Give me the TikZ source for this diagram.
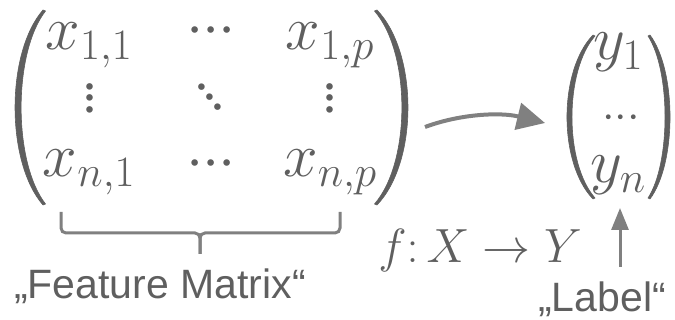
\RequirePackage{fix-cm}
\documentclass[tikz,border=0pt]{standalone}
\usepackage{fontspec}
\newfontfamily\arialf{Liberation Sans}
\usetikzlibrary{arrows.meta}
\definecolor{tgray}{RGB}{95,95,95}
\definecolor{agray}{RGB}{128,128,128}
% three dots centred on the baseline (axis height of the current size given as #2)
\newcommand\mydotrow[2]{\raisebox{-#2}[3pt][3pt]{$\mathord{\cdot}\mkern#1\mathord{\cdot}\mkern#1\mathord{\cdot}$}}
\begin{document}
\begin{tikzpicture}[x=1pt,y=-1pt,
  every node/.style={text=tgray, inner sep=0pt, outer sep=0pt},
  mbig/.style={font=\fontsize{62}{70}\selectfont, anchor=base},
  dbig/.style={font=\fontsize{62}{70}\selectfont},
  dsmall/.style={font=\fontsize{45}{52}\selectfont},
  fmap/.style={font=\fontsize{48}{56}\selectfont, anchor=base},
  lbl/.style={font=\arialf\fontsize{41}{48}\selectfont, anchor=base},
  paren/.style={fill=tgray, draw=tgray, line width=0.6pt, line join=round},
  brk/.style={draw=agray, line width=3pt, rounded corners=5pt},
  arr/.style={draw=agray, line width=4pt, -{Triangle[length=28pt,width=27pt]}},
  uparr/.style={draw=agray, line width=3pt, -{Triangle[length=22pt,width=17pt]}}]
\useasboundingbox (0,0) rectangle (675,320);
% matrix parentheses
\path[paren] (43,10) .. controls (5.7,53) and (5.7,162) .. (43,205) -- (45.5,204) .. controls (13,162) and (13,53) .. (45.5,11) -- cycle;
\path[paren] (377,10) .. controls (418.3,53) and (418.3,162) .. (377,205) -- (374.5,204) .. controls (411,162) and (411,53) .. (374.5,11) -- cycle;
% matrix entries
\node[mbig] (x11) at (89,50) {$x_{1,1}$};
\node[mbig] (x1p) at (330,50) {$x_{1,p}$};
\node[mbig] (xn1) at (89,177) {$x_{n,1}$};
\node[mbig] (xnp) at (330,177) {$x_{n,p}$};
\node[dbig] (c1) at (211,30) {\mydotrow{-0.3mu}{15.5pt}};
\node[dbig] (c2) at (211,163) {\mydotrow{-0.3mu}{15.5pt}};
\node[dbig,rotate=90] (v1) at (90,98) {\mydotrow{-1.65mu}{15.5pt}};
\node[dbig,rotate=90] (v2) at (330,98) {\mydotrow{-1.65mu}{15.5pt}};
\node[dbig,rotate=-50] (dd) at (210,97) {\mydotrow{-1.2mu}{15.5pt}};
% brace
\draw[brk] (61,212) |- (200,233) -- (200,254);
\draw[brk] (340,212) |- (200,233) -- (200,254);
\node[lbl] (fm) at (160,299) {„Feature Matrix“};
% arrow
\coordinate (a0) at (425,127);
\coordinate (a1) at (545,123);
\draw[arr] (a0) .. controls (460,114) and (500,112) .. (a1);
% vector
\path[paren] (593,35) .. controls (558.3,71) and (558.3,163) .. (593,199) -- (595,198) .. controls (564.3,163) and (564.3,71) .. (595,36) -- cycle;
\path[paren] (650,35) .. controls (676.7,71) and (676.7,163) .. (650,199) -- (648,198) .. controls (670.7,163) and (670.7,71) .. (648,36) -- cycle;
\node[mbig] (y1) at (618,60) {$y_1$};
\node[mbig] (yn) at (618,183) {$y_n$};
\node[dsmall] (yd) at (621,117) {\mydotrow{0mu}{11.25pt}};
% map
\node[fmap] (fxy) at (480,263) {$f\colon X\to Y$};
% label
\coordinate (u0) at (620,267);
\coordinate (u1) at (620,208);
\draw[uparr] (u0) -- (u1);
\node[lbl] (lab) at (602,312) {„Label“};
\end{tikzpicture}
\end{document}
